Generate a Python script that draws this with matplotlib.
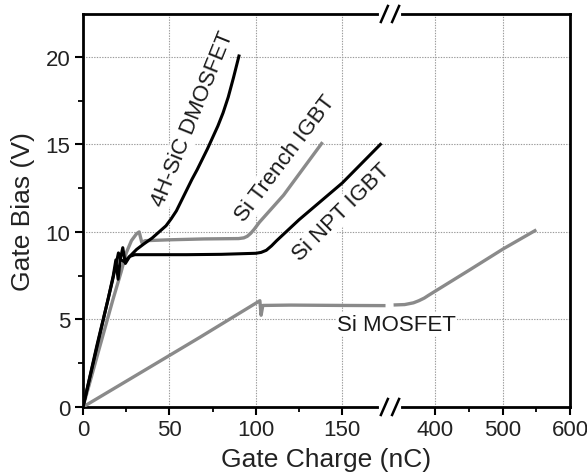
import numpy as np
import matplotlib
matplotlib.use("Agg")
import matplotlib.pyplot as plt
from matplotlib.ticker import FixedLocator

plt.rcParams['font.family'] = ['Liberation Sans', 'DejaVu Sans']

# gate charge (nC) / gate bias (V)
sic_q = [0, 8, 14.6, 17, 19, 20.5, 22, 24, 27, 31, 35, 40, 44, 48, 51, 54, 57, 60, 63, 66, 69, 72,
         75, 78, 81, 84, 87, 90.2]
sic_v = [0, 3.5, 6.2, 7.2, 8.1, 8.8, 8.4, 8.3, 8.6, 9.0, 9.3, 9.65, 10.0, 10.35, 10.75, 11.2, 11.8,
         12.4, 13.0, 13.55, 14.15, 14.75, 15.4, 16.05, 16.8, 17.7, 18.8, 20.05]

npt_q = [0, 8, 14.6, 17.5, 19, 20.3, 21.5, 23, 24.5, 27, 30, 40, 60, 80, 100, 103, 106, 109, 112,
         125, 150, 172]
npt_v = [0, 3.4, 6.2, 7.5, 8.4, 7.3, 8.4, 9.1, 8.2, 8.6, 8.7, 8.7, 8.7, 8.72, 8.78, 8.83, 8.95,
         9.2, 9.5, 10.7, 12.8, 15.0]

trench_q = [0, 9, 17.5, 22, 25, 28, 31, 32.5, 34, 36, 50, 70, 90, 93, 95, 97, 99, 102, 116, 138]
trench_v = [0, 3.2, 6.2, 7.7, 8.8, 9.5, 9.9, 10.0, 9.4, 9.5, 9.55, 9.6, 9.62, 9.66, 9.75, 9.92,
         10.15, 10.55, 12.1, 15.05]

mos_q1 = [0, 34, 67.6, 102.3, 103, 104, 120, 150, 174]
mos_v1 = [0, 2.0, 3.98, 6.07, 5.24, 5.8, 5.82, 5.8, 5.79]
mos_q2 = [341, 355, 368, 376, 384, 390, 397.5, 450, 501, 548]
mos_v2 = [5.83, 5.85, 5.95, 6.07, 6.22, 6.37, 6.55, 7.8, 9.03, 10.07]

x_major = [0, 50, 100, 150, 400, 500, 600]
x_minor = [25, 75, 125, 450, 550]
x_grid = [50, 100, 150, 400, 500]

# broken x axis: 0..177.5 and 333.3..600 squeezed together
B1, B2 = 177.5, 333.3
K1, K2, EPS = 1.73, 0.675, 0.001

def fwd(x):
    x = np.asarray(x, dtype=float)
    mid = B1 * K1 + (x - B1) * EPS
    right = B1 * K1 + (B2 - B1) * EPS + (x - B2) * K2
    return np.where(x <= B1, x * K1, np.where(x >= B2, right, mid))

def inv(u):
    u = np.asarray(u, dtype=float)
    u1 = B1 * K1
    u2 = B1 * K1 + (B2 - B1) * EPS
    return np.where(u <= u1, u / K1,
                    np.where(u >= u2, B2 + (u - u2) / K2, B1 + (u - u1) / EPS))

fig = plt.figure(figsize=(5.87, 4.77), dpi=100)
ax = fig.add_axes([0.1414, 0.1447, 0.8296, 0.8239])
ax.set_xscale('function', functions=(fwd, inv))
ax.set_xlim(0, 600)
ax.set_ylim(0, 22.45)

gray = '#8a8a8a'
ax.plot(mos_q1, mos_v1, color=gray, lw=2.4, zorder=4)
ax.plot(mos_q2, mos_v2, color=gray, lw=2.4, zorder=4)
ax.plot(trench_q, trench_v, color=gray, lw=2.4, zorder=4)
ax.plot(npt_q, npt_v, color='black', lw=2.2, zorder=5)
ax.plot(sic_q, sic_v, color='black', lw=2.2, zorder=5)

for g in x_grid:
    ax.axvline(g, color='#9a9a9a', lw=0.8, ls=(0, (1.2, 1.2)), zorder=1)
for g in [5, 10, 15, 20]:
    ax.axhline(g, color='#9a9a9a', lw=0.8, ls=(0, (1.2, 1.2)), zorder=1)

ax.xaxis.set_major_locator(FixedLocator(x_major))
ax.xaxis.set_minor_locator(FixedLocator(x_minor))
ax.set_xticklabels([str(v) for v in x_major])
ax.set_yticks([0, 5, 10, 15, 20])
ax.set_yticks([2.5, 7.5, 12.5, 17.5], minor=True)
ax.tick_params(which='major', direction='out', length=6, width=1.5, labelsize=16, pad=3,
               labelcolor='#222222')
ax.tick_params(which='minor', direction='out', length=3.5, width=1.3)
ax.tick_params(top=False, right=False)
for s in ax.spines.values():
    s.set_linewidth(2)

ax.set_xlabel('Gate Charge (nC)', fontsize=19, labelpad=5, color='#222222')
ax.set_ylabel('Gate Bias (V)', fontsize=19, labelpad=8, color='#222222')

box = dict(facecolor='white', edgecolor='none', pad=1)
kw = dict(fontsize=16, ha='center', va='center', rotation_mode='anchor', color='#1a1a1a',
          bbox=box, zorder=3)
ax.text(63.5, 16.5, '4H-SiC DMOSFET', rotation=68, **kw)
ax.text(116.8, 14.2, 'Si Trench IGBT', rotation=53, **kw)
ax.text(149.5, 11.17, 'Si NPT IGBT', rotation=45, **kw)
ax.text(0.644, 0.211, 'Si MOSFET', transform=ax.transAxes, **kw)

# break marks on top and bottom spines
bx = (390 - 83) / 487.0
dx, dy = 3.5 / 487.0, 8 / 393.0
for yb in (0.0, 1.0):
    ax.plot([bx - 2.5 * dx, bx + 2.5 * dx], [yb, yb], color='white', lw=3,
            transform=ax.transAxes, clip_on=False, zorder=6)
    for off in (-1.6 * dx, 1.6 * dx):
        ax.plot([bx + off - dx, bx + off + dx], [yb - dy, yb + dy], color='black', lw=1.8,
                transform=ax.transAxes, clip_on=False, zorder=7)

fig.savefig('out.png', dpi=100)
